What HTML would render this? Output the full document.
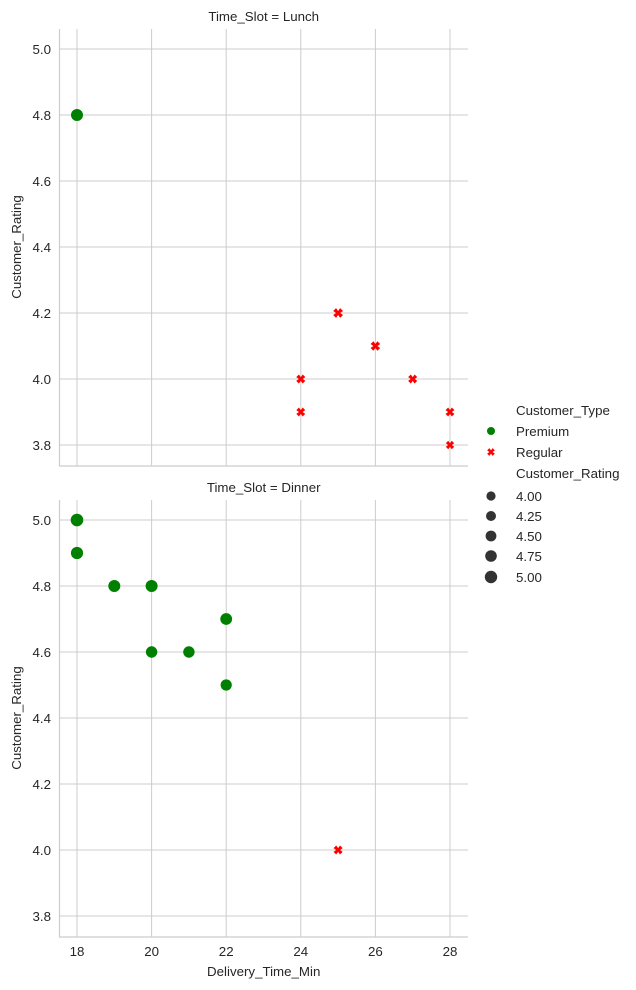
<!DOCTYPE html>
<html><head><style>body{margin:0;background:#fff}svg{display:block}text{font-family:"Liberation Sans",sans-serif;fill:#262626}</style></head>
<body>
<svg width="636" height="990" viewBox="0 0 636 990" xmlns="http://www.w3.org/2000/svg">
<defs>
<path id="X" d="M-1,-2.4 L0,-1 L1,-2.4 L2.4,-1 L1,0 L2.4,1 L1,2.4 L0,1 L-1,2.4 L-2.4,1 L-1,0 L-2.4,-1 Z" fill="#ff0000"/>
</defs>
<g stroke="#cccccc" stroke-width="1" fill="none">
<path d="M77,29V466M151.6,29V466M226.2,29V466M300.8,29V466M375.4,29V466M450,29V466"/>
<path d="M59.5,49H468M59.5,115H468M59.5,181H468M59.5,247H468M59.5,313H468M59.5,379H468M59.5,445H468"/>
<path d="M59.5,29V466H468" stroke-width="1.2"/>
<path d="M77,500V937M151.6,500V937M226.2,500V937M300.8,500V937M375.4,500V937M450,500V937"/>
<path d="M59.5,520H468M59.5,586H468M59.5,652H468M59.5,718H468M59.5,784H468M59.5,850H468M59.5,916H468"/>
<path d="M59.5,500V937H468" stroke-width="1.2"/>
</g>
<g font-size="13.3" text-anchor="end">
<text x="51" y="54">5.0</text><text x="51" y="120">4.8</text><text x="51" y="186">4.6</text><text x="51" y="252">4.4</text><text x="51" y="318">4.2</text><text x="51" y="384">4.0</text><text x="51" y="450">3.8</text>
<text x="51" y="525">5.0</text><text x="51" y="591">4.8</text><text x="51" y="657">4.6</text><text x="51" y="723">4.4</text><text x="51" y="789">4.2</text><text x="51" y="855">4.0</text><text x="51" y="921">3.8</text>
</g>
<g font-size="13.3" text-anchor="middle">
<text x="77" y="956">18</text><text x="151.6" y="956">20</text><text x="226.2" y="956">22</text><text x="300.8" y="956">24</text><text x="375.4" y="956">26</text><text x="450" y="956">28</text>
<text x="263.7" y="976">Delivery_Time_Min</text>
<text x="263.7" y="21">Time_Slot = Lunch</text>
<text x="263.7" y="492">Time_Slot = Dinner</text>
<text transform="translate(21,247) rotate(-90)">Customer_Rating</text>
<text transform="translate(21,718) rotate(-90)">Customer_Rating</text>
</g>
<circle cx="77" cy="115" r="6" fill="#008000"/>
<use href="#X" transform="translate(300.8,379) scale(1.9)"/>
<use href="#X" transform="translate(300.8,412) scale(1.85)"/>
<use href="#X" transform="translate(338.1,313) scale(2.05)"/>
<use href="#X" transform="translate(375.4,346) scale(2)"/>
<use href="#X" transform="translate(412.7,379) scale(1.9)"/>
<use href="#X" transform="translate(450,412) scale(1.85)"/>
<use href="#X" transform="translate(450,445) scale(1.75)"/>
<circle cx="77" cy="520" r="6.3" fill="#008000"/>
<circle cx="77" cy="553" r="6.1" fill="#008000"/>
<circle cx="114.3" cy="586" r="6" fill="#008000"/>
<circle cx="151.6" cy="586" r="6" fill="#008000"/>
<circle cx="151.6" cy="652" r="5.7" fill="#008000"/>
<circle cx="188.9" cy="652" r="5.7" fill="#008000"/>
<circle cx="226.2" cy="619" r="5.9" fill="#008000"/>
<circle cx="226.2" cy="685" r="5.6" fill="#008000"/>
<use href="#X" transform="translate(338.1,850) scale(1.9)"/>
<g font-size="13.3">
<text x="516" y="415">Customer_Type</text>
<circle cx="491" cy="431" r="4" fill="#008000"/><text x="516" y="436">Premium</text>
<use href="#X" transform="translate(491,452) scale(1.6)"/><text x="516" y="457">Regular</text>
<text x="516" y="478">Customer_Rating</text>
<circle cx="491" cy="496" r="4.6" fill="#333"/><text x="516" y="501">4.00</text>
<circle cx="491" cy="516" r="5" fill="#333"/><text x="516" y="521">4.25</text>
<circle cx="491" cy="536" r="5.4" fill="#333"/><text x="516" y="541">4.50</text>
<circle cx="491" cy="556" r="5.8" fill="#333"/><text x="516" y="561">4.75</text>
<circle cx="491" cy="577" r="6.2" fill="#333"/><text x="516" y="582">5.00</text>
</g>
</svg>
</body></html>
